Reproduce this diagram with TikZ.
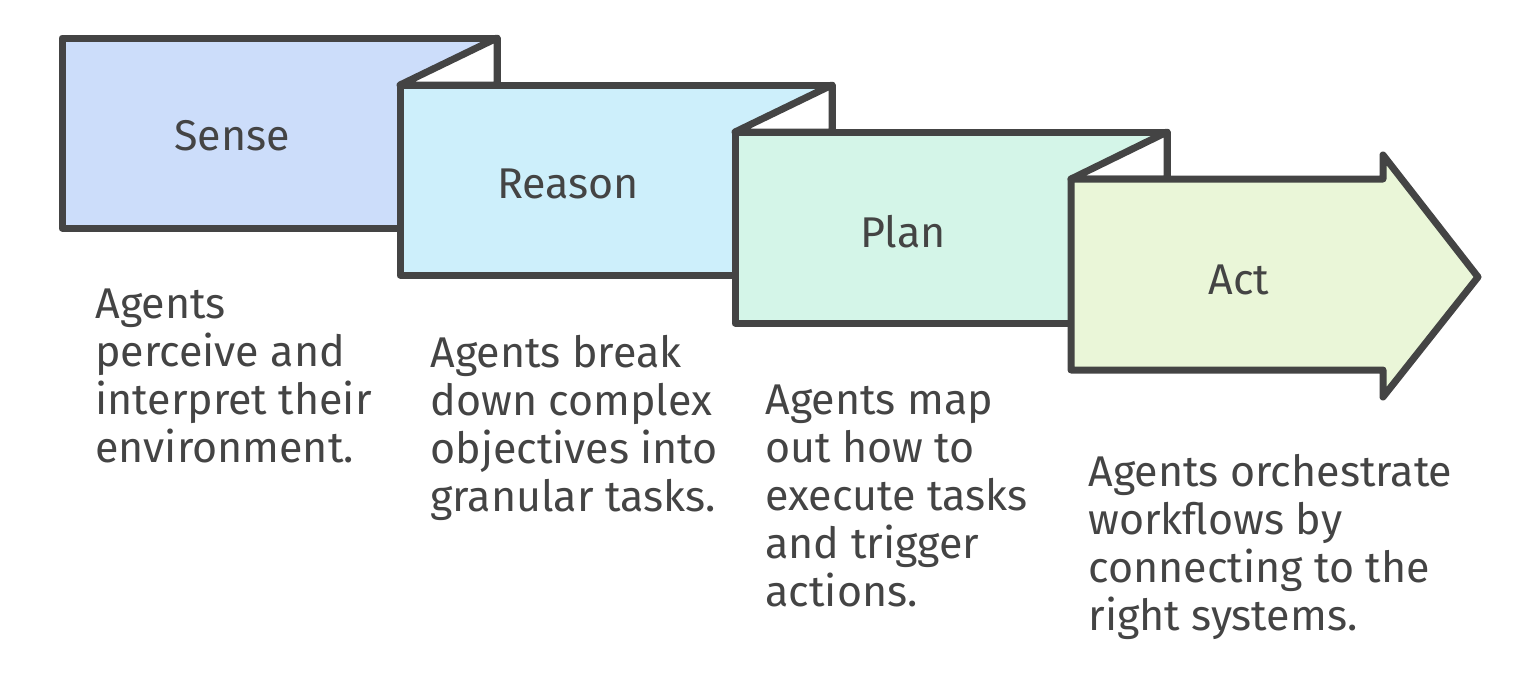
\documentclass[tikz,border=0pt]{standalone}
\usepackage{fontspec}
\setmainfont{Fira Sans}
\usepackage{tikz}
\definecolor{colorA}{HTML}{CCDDFA}
\definecolor{colorB}{HTML}{CDEFFB}
\definecolor{colorC}{HTML}{D4F5E8}
\definecolor{colorD}{HTML}{EAF6D8}
\definecolor{ink}{HTML}{444444}

\begin{document}
\begin{tikzpicture}[x=0.5pt,y=-0.5pt,
		outline/.style={draw=ink, line width=3.5pt, line join=round},
		fold/.style={outline, fill=white},
		tag/.style={text=ink, inner sep=0pt, font=\fontsize{21.5}{24}\selectfont},
		desc/.style={tag, align=left, anchor=north west, execute at begin node=\strut},
	]
		\useasboundingbox (0,0) rectangle (1522,680);
		%
		\coordinate (s-nw) at (62,38);
		\coordinate (s-se) at (497,228);
		\coordinate (r-nw) at (400,85);
		\coordinate (r-se) at (832,275);
		\coordinate (p-nw) at (735,132);
		\coordinate (p-se) at (1167,323);
		\coordinate (a-nw) at (1071,179);
		\coordinate (a-se) at (1383,370);
		\coordinate (a-tip) at (1478,277);
		%
		\draw[outline, fill=colorA] (s-nw) rectangle (s-se);
		\draw[fold] (s-nw -| s-se) -- (r-nw -| s-se) -- (r-nw) -- cycle;
		\draw[outline, fill=colorB] (r-nw) rectangle (r-se);
		\draw[fold] (r-nw -| r-se) -- (p-nw -| r-se) -- (p-nw) -- cycle;
		\draw[outline, fill=colorC] (p-nw) rectangle (p-se);
		\draw[fold] (p-nw -| p-se) -- (a-nw -| p-se) -- (a-nw) -- cycle;
		\draw[outline, fill=colorD] (a-nw) -- (a-nw -| a-se) -- ++(0,-24)
			-- (a-tip) -- ([yshift=-27*0.5pt]a-se) -- (a-se) -- (a-nw |- a-se) -- cycle;
		%
		\node[tag] (sense) at (232,136) {Sense};
		\node[tag] (reason) at (568,184) {Reason};
		\node[tag] (plan) at (903,232) {Plan};
		\node[tag] (act) at (1239,280) {Act};
		%
		\node[desc] (sense-d) at (95,288) {Agents\\perceive and\\interpret their\\environment.};
		\node[desc] (reason-d) at (430,335) {Agents break\\down complex\\objectives into\\granular tasks.};
		\node[desc] (plan-d) at (765,384) {Agents map\\out how to\\execute tasks\\and trigger\\actions.};
		\node[desc] (act-d) at (1088,454) {Agents orchestrate\\workflows by\\connecting to the\\right systems.};
	\end{tikzpicture}
\end{document}
